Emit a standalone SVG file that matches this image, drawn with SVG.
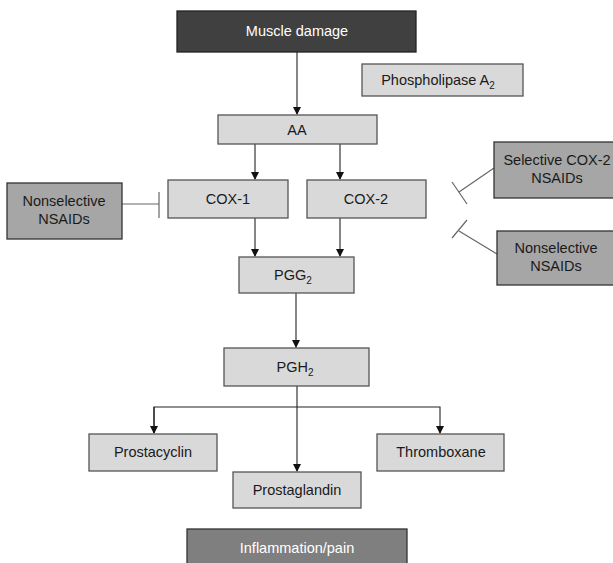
<svg xmlns="http://www.w3.org/2000/svg" width="613" height="563" viewBox="0 0 613 563">
<defs>
<marker id="arr" markerWidth="8" markerHeight="10" refX="7" refY="4" orient="auto" markerUnits="userSpaceOnUse">
<path d="M0,0 L8,4 L0,8 Z" fill="#111"/>
</marker>
<style>
.box{fill:#d9d9d9;stroke:#555;stroke-width:1.3}
.drug{fill:#a6a6a6;stroke:#333;stroke-width:1.3}
.t{font-family:"Liberation Sans",Arial,sans-serif;font-size:14.5px;fill:#1a1a1a;text-anchor:middle}
.w{fill:#fff}
.c{fill:none;stroke:#222;stroke-width:1.1}
.i{fill:none;stroke:#666;stroke-width:1.2}
</style>
</defs>
<rect width="613" height="563" fill="#fff"/>
<g id="connectors">
<line class="c" x1="297" y1="52" x2="297" y2="114" marker-end="url(#arr)"/>
<line class="c" x1="255" y1="144" x2="255" y2="179" marker-end="url(#arr)"/>
<line class="c" x1="340" y1="144" x2="340" y2="179" marker-end="url(#arr)"/>
<line class="c" x1="255" y1="218" x2="255" y2="256" marker-end="url(#arr)"/>
<line class="c" x1="340" y1="218" x2="340" y2="256" marker-end="url(#arr)"/>
<line class="c" x1="296" y1="293" x2="296" y2="347" marker-end="url(#arr)"/>
<line class="c" x1="297" y1="386" x2="297" y2="471" marker-end="url(#arr)"/>
<polyline class="c" points="154,433 154,407 440,407 440,433" marker-start="url(#arr)" marker-end="url(#arr)" style="marker-start:none"/>
<line class="c" x1="154" y1="407" x2="154" y2="433" marker-end="url(#arr)"/>
<line class="i" x1="122" y1="204" x2="159" y2="204"/>
<line class="i" x1="159" y1="192" x2="159" y2="218"/>
<line class="i" x1="494" y1="168" x2="459" y2="192"/>
<line class="i" x1="452" y1="182" x2="467" y2="204"/>
<line class="i" x1="497" y1="254" x2="459" y2="231"/>
<line class="i" x1="452" y1="238" x2="467" y2="220"/>
</g>
<g id="muscle-damage"><rect x="177" y="11" width="239" height="41" fill="#404040" stroke="#222" stroke-width="1.3"/><text class="t w" x="297" y="36">Muscle damage</text></g>
<g id="phospholipase"><rect class="box" x="362" y="64" width="161" height="32"/><text class="t" x="438" y="85">Phospholipase A<tspan dy="4" font-size="10">2</tspan></text></g>
<g id="aa"><rect class="box" x="218" y="115" width="159" height="29"/><text class="t" x="297" y="135">AA</text></g>
<g id="cox1"><rect class="box" x="168" y="180" width="120" height="38"/><text class="t" x="228" y="204">COX-1</text></g>
<g id="cox2"><rect class="box" x="307" y="180" width="119" height="38"/><text class="t" x="366" y="204">COX-2</text></g>
<g id="nonselective-left"><rect class="drug" x="7" y="183" width="115" height="56"/><text class="t" x="64" y="206">Nonselective</text><text class="t" x="64" y="224">NSAIDs</text></g>
<g id="selective-cox2"><rect class="drug" x="494" y="142" width="125" height="56"/><text class="t" x="557" y="165">Selective COX-2</text><text class="t" x="557" y="183">NSAIDs</text></g>
<g id="nonselective-right"><rect class="drug" x="497" y="231" width="120" height="54"/><text class="t" x="556" y="253">Nonselective</text><text class="t" x="556" y="271">NSAIDs</text></g>
<g id="pgg2"><rect class="box" x="239" y="257" width="115" height="36"/><text class="t" x="293" y="280">PGG<tspan dy="4" font-size="10">2</tspan></text></g>
<g id="pgh2"><rect class="box" x="224" y="348" width="145" height="38"/><text class="t" x="295" y="372">PGH<tspan dy="4" font-size="10">2</tspan></text></g>
<g id="prostacyclin"><rect class="box" x="89" y="434" width="128" height="37"/><text class="t" x="153" y="457">Prostacyclin</text></g>
<g id="thromboxane"><rect class="box" x="377" y="434" width="127" height="37"/><text class="t" x="441" y="457">Thromboxane</text></g>
<g id="prostaglandin"><rect class="box" x="233" y="472" width="128" height="36"/><text class="t" x="297" y="495">Prostaglandin</text></g>
<g id="inflammation"><rect x="187" y="529" width="220" height="40" fill="#7f7f7f" stroke="#333" stroke-width="1.3"/><text class="t w" x="297" y="553">Inflammation/pain</text></g>
</svg>
